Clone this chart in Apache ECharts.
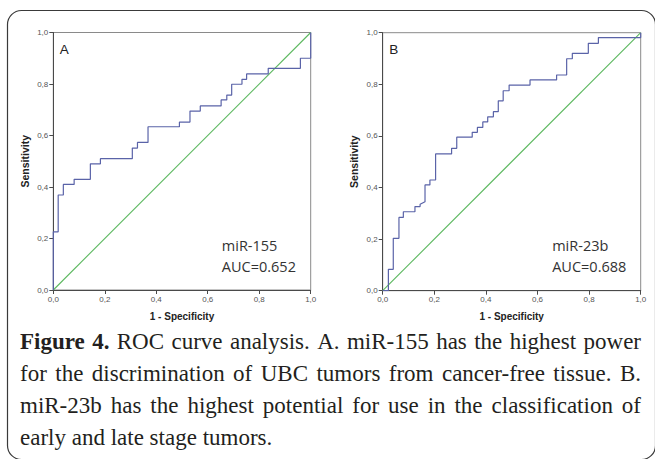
<!DOCTYPE html>
<html>
<head>
<meta charset="utf-8">
<script src="https://cdn.jsdelivr.net/npm/echarts@6/dist/echarts.min.js"></script>
<style>
html,body{margin:0;padding:0;background:#fff;}
#chart{width:655px;height:459px;}
</style>
</head>
<body>
<div id="chart"></div>
<script>
// ---------- DATA ----------
// Panel A: miR-155 ROC curve (1 - specificity, sensitivity)
const fprA = [0,0,0.019,0.019,0.039,0.039,0.081,0.081,0.144,0.144,0.183,0.183,0.307,0.307,0.327,0.327,0.368,0.368,0.490,0.490,0.531,0.531,0.571,0.571,0.652,0.652,0.674,0.674,0.693,0.693,0.733,0.733,0.751,0.751,0.835,0.835,0.960,0.960,1.0,1.0];
const tprA = [0,0.226,0.226,0.369,0.369,0.410,0.410,0.430,0.430,0.490,0.490,0.510,0.510,0.551,0.551,0.573,0.573,0.634,0.634,0.652,0.652,0.695,0.695,0.715,0.715,0.738,0.738,0.757,0.757,0.799,0.799,0.818,0.818,0.839,0.839,0.861,0.861,0.900,0.900,1.0];
// Panel B: miR-23b ROC curve
const fprB = [0,0.022,0.022,0.041,0.041,0.063,0.063,0.080,0.080,0.125,0.125,0.145,0.145,0.164,0.164,0.183,0.183,0.205,0.205,0.267,0.267,0.287,0.287,0.347,0.347,0.367,0.367,0.388,0.388,0.407,0.407,0.429,0.429,0.448,0.448,0.467,0.467,0.490,0.490,0.571,0.571,0.674,0.674,0.713,0.713,0.735,0.735,0.797,0.797,0.836,0.836,1.0,1.0];
const tprB = [0,0,0.083,0.083,0.203,0.203,0.284,0.284,0.306,0.306,0.326,0.326,0.335,0.345,0.410,0.410,0.429,0.429,0.530,0.530,0.552,0.552,0.595,0.595,0.614,0.614,0.633,0.633,0.654,0.654,0.674,0.674,0.694,0.694,0.736,0.736,0.775,0.775,0.797,0.797,0.817,0.817,0.836,0.836,0.899,0.899,0.920,0.920,0.959,0.959,0.981,0.981,1.0];
// Reference (chance) line
const diagX = [0, 1];
const diagY = [0, 1];
// Ticks
const tickValues = [0, 0.2, 0.4, 0.6, 0.8, 1.0];
// Texts
const panelLetters = ['A', 'B'];
const markerNames = ['miR-155', 'miR-23b'];
const aucTexts = ['AUC=0.652', 'AUC=0.688'];
const xAxisTitle = '1 - Specificity';
const yAxisTitle = 'Sensitivity';
const captionLines = [
  'Figure 4. ROC curve analysis. A. miR-155 has the highest power',
  'for the discrimination of UBC tumors from cancer-free tissue. B.',
  'miR-23b has the highest potential for use in the classification of',
  'early and late stage tumors.'
];
const captionBoldWords = 2;

// ---------- CHART ----------
const zip = (xs, ys) => xs.map((x, i) => [x, ys[i]]);
const fmt = v => v.toFixed(1).replace('.', ',');

const grids = [
  {left: 53.3, top: 32.5, width: 257.4, height: 257.5},
  {left: 382.7, top: 32.7, width: 258, height: 258}
];

const axisCommon = {
  type: 'value', min: 0, max: 1, interval: 0.2,
  axisLine: {show: true, onZero: false, lineStyle: {color: '#4a4a4a', width: 1}},
  axisTick: {show: true, length: 4, lineStyle: {color: '#4a4a4a'}},
  splitLine: {show: false},
  axisLabel: {formatter: fmt, fontSize: 8, color: '#555', fontFamily: '"Liberation Sans", Arial', margin: 5}
};

const chart = echarts.init(document.getElementById('chart'), null, {renderer: 'svg'});

// caption words justified
const measureCtx = document.createElement('canvas').getContext('2d');
const capSize = 23;
const fontReg = capSize + 'px "Liberation Serif", "Times New Roman", serif';
const fontBold = 'bold ' + capSize + 'px "Liberation Serif", "Times New Roman", serif';
function mw(t, f) { measureCtx.font = f; return measureCtx.measureText(t).width; }
const capX0 = 20, capX1 = 641;
const capY = [341, 373, 405, 437];
const captionGraphics = [];
let wordIndex = 0;
captionLines.forEach((line, li) => {
  const words = line.split(' ');
  const fonts = words.map((w, wi) => (wordIndex + wi) < captionBoldWords ? fontBold : fontReg);
  wordIndex += words.length;
  const widths = words.map((w, i) => mw(w, fonts[i]));
  const total = widths.reduce((a, b) => a + b, 0);
  const last = li === captionLines.length - 1;
  const gap = last ? mw(' ', fontReg) : (capX1 - capX0 - total) / (words.length - 1);
  let x = capX0;
  words.forEach((w, i) => {
    captionGraphics.push({
      type: 'text', x: x, y: capY[li], silent: true,
      style: {text: w, font: fonts[i], fill: '#231f20', align: 'left', verticalAlign: 'middle'}
    });
    x += widths[i] + gap;
  });
});

const graphics = [
  {type: 'rect', shape: {x: 7.5, y: 10.5, width: 648, height: 449, r: 14}, silent: true,
   style: {fill: 'none', stroke: '#3a3a3a', lineWidth: 1.2}},
];
grids.forEach((g, i) => {
  graphics.push({type: 'text', x: g.left + 6.5, y: g.top + 17, silent: true,
    style: {text: panelLetters[i], font: '13.5px "Liberation Sans", Arial', fill: '#222', align: 'left', verticalAlign: 'middle'}});
  graphics.push({type: 'text', x: g.left + (i === 0 ? 168.5 : 169.5), y: 245.7, silent: true,
    style: {text: markerNames[i], font: '14.5px "Open Sans"', fill: '#333', align: 'left', verticalAlign: 'middle'}});
  graphics.push({type: 'text', x: g.left + (i === 0 ? 168.5 : 169.5), y: 266, silent: true,
    style: {text: aucTexts[i], font: '14.5px "Open Sans"', fill: '#333', align: 'left', verticalAlign: 'middle'}});
  graphics.push({type: 'text', x: g.left + g.width / 2, y: 316, silent: true,
    style: {text: xAxisTitle, font: 'bold 10px "Liberation Sans", Arial', fill: '#222', align: 'center', verticalAlign: 'middle'}});
  graphics.push({type: 'text', x: g.left - 28.5, y: g.top + g.height / 2, rotation: Math.PI / 2, silent: true,
    style: {text: yAxisTitle, font: 'bold 10.5px "Liberation Sans", Arial', fill: '#222', align: 'center', verticalAlign: 'middle'}});
});

const option = {
  animation: false,
  backgroundColor: '#fff',
  grid: grids.map(g => Object.assign({show: true, borderColor: '#8a8a8a', borderWidth: 1, backgroundColor: 'transparent'}, g)),
  xAxis: [Object.assign({gridIndex: 0}, axisCommon), Object.assign({gridIndex: 1}, axisCommon)],
  yAxis: [Object.assign({gridIndex: 0}, axisCommon), Object.assign({gridIndex: 1}, axisCommon)],
  series: [
    {type: 'line', xAxisIndex: 0, yAxisIndex: 0, data: zip(diagX, diagY), showSymbol: false, silent: true,
     lineStyle: {color: '#5cb85f', width: 1.1}},
    {type: 'line', xAxisIndex: 0, yAxisIndex: 0, data: zip(fprA, tprA), showSymbol: false, silent: true,
     lineStyle: {color: '#5a63a8', width: 1.2}},
    {type: 'line', xAxisIndex: 1, yAxisIndex: 1, data: zip(diagX, diagY), showSymbol: false, silent: true,
     lineStyle: {color: '#5cb85f', width: 1.1}},
    {type: 'line', xAxisIndex: 1, yAxisIndex: 1, data: zip(fprB, tprB), showSymbol: false, silent: true,
     lineStyle: {color: '#5a63a8', width: 1.2}}
  ],
  graphic: graphics.concat(captionGraphics)
};
chart.setOption(option);
</script>
</body>
</html>
